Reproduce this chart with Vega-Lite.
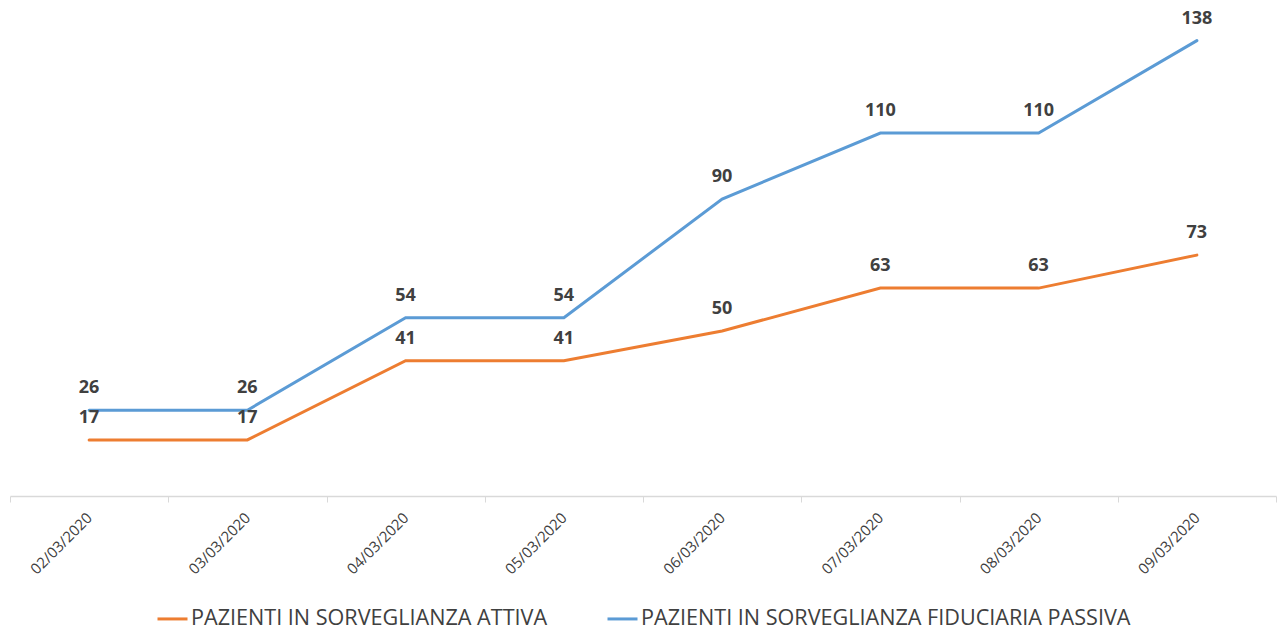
{
  "$schema": "https://vega.github.io/schema/vega-lite/v6.json",
  "width": 1266,
  "height": 495,
  "autosize": {"type": "none"},
  "padding": {"left": 10, "top": 1, "right": 1, "bottom": 134},
  "background": "white",
  "config": {"view": {"stroke": null}, "font": "Open Sans"},
  "data": {"values": [
    {"data": "02/03/2020", "serie": "PAZIENTI IN SORVEGLIANZA ATTIVA", "valore": 17},
    {"data": "03/03/2020", "serie": "PAZIENTI IN SORVEGLIANZA ATTIVA", "valore": 17},
    {"data": "04/03/2020", "serie": "PAZIENTI IN SORVEGLIANZA ATTIVA", "valore": 41},
    {"data": "05/03/2020", "serie": "PAZIENTI IN SORVEGLIANZA ATTIVA", "valore": 41},
    {"data": "06/03/2020", "serie": "PAZIENTI IN SORVEGLIANZA ATTIVA", "valore": 50},
    {"data": "07/03/2020", "serie": "PAZIENTI IN SORVEGLIANZA ATTIVA", "valore": 63},
    {"data": "08/03/2020", "serie": "PAZIENTI IN SORVEGLIANZA ATTIVA", "valore": 63},
    {"data": "09/03/2020", "serie": "PAZIENTI IN SORVEGLIANZA ATTIVA", "valore": 73},
    {"data": "02/03/2020", "serie": "PAZIENTI IN SORVEGLIANZA FIDUCIARIA PASSIVA", "valore": 26},
    {"data": "03/03/2020", "serie": "PAZIENTI IN SORVEGLIANZA FIDUCIARIA PASSIVA", "valore": 26},
    {"data": "04/03/2020", "serie": "PAZIENTI IN SORVEGLIANZA FIDUCIARIA PASSIVA", "valore": 54},
    {"data": "05/03/2020", "serie": "PAZIENTI IN SORVEGLIANZA FIDUCIARIA PASSIVA", "valore": 54},
    {"data": "06/03/2020", "serie": "PAZIENTI IN SORVEGLIANZA FIDUCIARIA PASSIVA", "valore": 90},
    {"data": "07/03/2020", "serie": "PAZIENTI IN SORVEGLIANZA FIDUCIARIA PASSIVA", "valore": 110},
    {"data": "08/03/2020", "serie": "PAZIENTI IN SORVEGLIANZA FIDUCIARIA PASSIVA", "valore": 110},
    {"data": "09/03/2020", "serie": "PAZIENTI IN SORVEGLIANZA FIDUCIARIA PASSIVA", "valore": 138}
  ]},
  "encoding": {
    "x": {
      "field": "data", "type": "ordinal", "sort": null,
      "scale": {"type": "band", "paddingInner": 0, "paddingOuter": 0},
      "axis": {
        "title": null, "labelAngle": -45, "labelAlign": "right", "labelBaseline": "middle",
        "labelFontSize": 15, "labelColor": "#404040", "labelPadding": 13,
        "tickBand": "extent", "tickColor": "#d9d9d9", "tickSize": 6,
        "domainColor": "#d9d9d9", "domainWidth": 1.5, "grid": false
      }
    },
    "y": {
      "field": "valore", "type": "quantitative",
      "scale": {"domain": [0, 150], "nice": false},
      "axis": null
    },
    "color": {
      "field": "serie", "type": "nominal",
      "scale": {"domain": ["PAZIENTI IN SORVEGLIANZA ATTIVA", "PAZIENTI IN SORVEGLIANZA FIDUCIARIA PASSIVA"], "range": ["#ED7D31", "#5B9BD5"]},
      "legend": {
        "title": null, "orient": "none", "direction": "horizontal",
        "legendX": 146, "legendY": 601,
        "symbolType": "stroke", "symbolSize": 900, "symbolStrokeWidth": 3,
        "labelFontSize": 21.6, "labelColor": "#404040", "labelLimit": 700,
        "columnPadding": 53, "labelOffset": 2
      }
    }
  },
  "layer": [
    {"mark": {"type": "line", "strokeWidth": 3, "strokeCap": "round"}},
    {
      "mark": {"type": "text", "dy": -22, "fontSize": 18, "fontWeight": "bold", "color": "#404040"},
      "encoding": {"text": {"field": "valore", "type": "quantitative"}, "color": {"value": "#404040"}}
    }
  ]
}
